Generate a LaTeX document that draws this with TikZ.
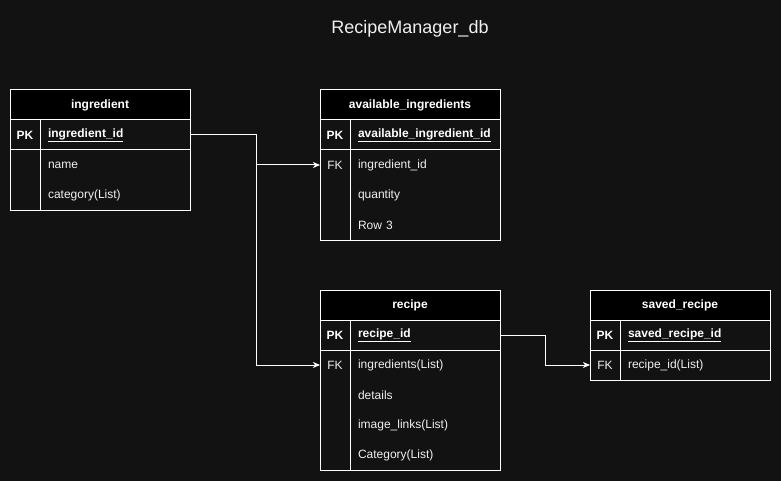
\documentclass[tikz,border=0pt]{standalone}
\usepackage{fontspec}
\setmainfont{Liberation Sans}
\usetikzlibrary{arrows.meta}
\definecolor{canvas}{HTML}{121212}
\definecolor{fieldtext}{HTML}{F0F0F0}
\begin{document}
\begin{tikzpicture}[x=1pt, y=-1pt, line width=1pt,
  every node/.style={text=fieldtext, font=\fontsize{12}{14}\selectfont},
  tablehead/.style={draw=white, fill=black, minimum width=180pt, minimum height=30pt, inner sep=0pt, outer sep=0pt, anchor=north west, text=white, font=\fontsize{12}{14}\selectfont\bfseries},
  keycell/.style={minimum width=30pt, minimum height=30pt, inner sep=0pt, outer sep=0pt, anchor=north west},
  fieldcell/.style={minimum height=30pt, text width=134pt, inner xsep=8pt, inner ysep=0pt, outer sep=0pt, align=left, anchor=west},
  pkrow/.style={draw=white, text=white, font=\fontsize{12}{14}\selectfont\bfseries},
  frame/.style={draw=white},
  link/.style={draw=white, -{Stealth[length=7pt, width=6pt, inset=2pt]}}]

\useasboundingbox[fill=canvas] (0,0) rectangle (781,481);

\node[font=\fontsize{18}{21}\selectfont] (title) at (410,29) {RecipeManager\_db};

% ingredient
\node[tablehead] (ing) at (10,90) {ingredient};
\node[keycell, pkrow] (ingk0) at (ing.south west) {PK};
\node[fieldcell, pkrow] (ingf0) at (ingk0.east) {\underline{ingredient\_id}};
\node[keycell] (ingk1) at (ingk0.south west) {};
\node[fieldcell] (ingf1) at (ingk1.east) {name};
\node[keycell] (ingk2) at (ingk1.south west) {};
\node[fieldcell] (ingf2) at (ingk2.east) {category(List)};
\draw[frame] (ingk1.north west) rectangle (ingf2.south east);
\draw[frame] (ingk1.north east) -- (ingk2.south east);

% available_ingredients
\node[tablehead] (avl) at (320,90) {available\_ingredients};
\node[keycell, pkrow] (avlk0) at (avl.south west) {PK};
\node[fieldcell, pkrow] (avlf0) at (avlk0.east) {\underline{available\_ingredient\_id}};
\node[keycell] (avlk1) at (avlk0.south west) {FK};
\node[fieldcell] (avlf1) at (avlk1.east) {ingredient\_id};
\node[keycell] (avlk2) at (avlk1.south west) {};
\node[fieldcell] (avlf2) at (avlk2.east) {quantity};
\node[keycell] (avlk3) at (avlk2.south west) {};
\node[fieldcell] (avlf3) at (avlk3.east) {Row 3};
\draw[frame] (avlk1.north west) rectangle (avlf3.south east);
\draw[frame] (avlk1.north east) -- (avlk3.south east);

% recipe
\node[tablehead] (rcp) at (320,290) {recipe};
\node[keycell, pkrow] (rcpk0) at (rcp.south west) {PK};
\node[fieldcell, pkrow] (rcpf0) at (rcpk0.east) {\underline{recipe\_id}};
\node[keycell] (rcpk1) at (rcpk0.south west) {FK};
\node[fieldcell] (rcpf1) at (rcpk1.east) {ingredients(List)};
\node[keycell] (rcpk2) at (rcpk1.south west) {};
\node[fieldcell] (rcpf2) at (rcpk2.east) {details};
\node[keycell] (rcpk3) at (rcpk2.south west) {};
\node[fieldcell] (rcpf3) at (rcpk3.east) {image\_links(List)};
\node[keycell] (rcpk4) at (rcpk3.south west) {};
\node[fieldcell] (rcpf4) at (rcpk4.east) {Category(List)};
\draw[frame] (rcpk1.north west) rectangle (rcpf4.south east);
\draw[frame] (rcpk1.north east) -- (rcpk4.south east);

% saved_recipe
\node[tablehead] (svd) at (590,290) {saved\_recipe};
\node[keycell, pkrow] (svdk0) at (svd.south west) {PK};
\node[fieldcell, pkrow] (svdf0) at (svdk0.east) {\underline{saved\_recipe\_id}};
\node[keycell] (svdk1) at (svdk0.south west) {FK};
\node[fieldcell] (svdf1) at (svdk1.east) {recipe\_id(List)};
\draw[frame] (svdk1.north west) rectangle (svdf1.south east);
\draw[frame] (svdk1.north east) -- (svdk1.south east);

% links
\draw[link] (ingf0.east) -- ++(66,0) |- (avlk1.west);
\draw[link] (ingf0.east) -- ++(66,0) |- (rcpk1.west);
\draw[link] (rcpf0.east) -- ++(45,0) |- (svdk1.west);
\end{tikzpicture}
\end{document}
